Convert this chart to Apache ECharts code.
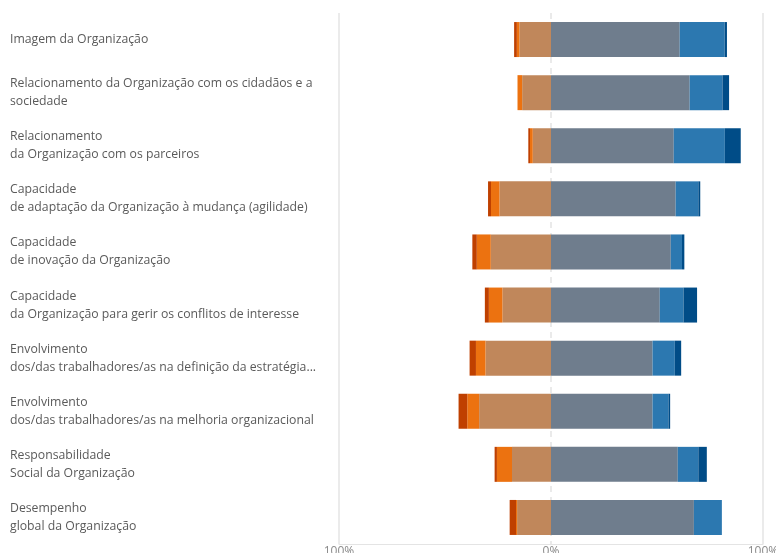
<!DOCTYPE html>
<html>
<head>
<meta charset="utf-8">
<script src="https://cdn.jsdelivr.net/npm/echarts@6/dist/echarts.min.js"></script>
<style>
  html, body { margin: 0; padding: 0; background: #ffffff; }
  #chart { width: 776px; height: 553px; }
</style>
</head>
<body>
<div id="chart"></div>
<script>
// Dimensions evaluated
const categories = [
  'Imagem da Organização',
  'Relacionamento da Organização com os cidadãos e a\nsociedade',
  'Relacionamento\nda Organização com os parceiros',
  'Capacidade\nde adaptação da Organização à mudança (agilidade)',
  'Capacidade\nde inovação da Organização',
  'Capacidade\nda Organização para gerir os conflitos de interesse',
  'Envolvimento\ndos/das trabalhadores/as na definição da estratégia...',
  'Envolvimento\ndos/das trabalhadores/as na melhoria organizacional',
  'Responsabilidade\nSocial da Organização',
  'Desempenho\nglobal da Organização'
];

// Share of answers per level (%), from most negative to most positive
const veryNegative = [1.3, 0.0, 0.8, 1.4, 2.1, 1.9, 3.0, 4.1, 1.1, 3.0];
const negative     = [1.2, 2.2, 1.3, 4.0, 6.6, 6.4, 4.5, 5.6, 7.1, 0.5];
const slightlyNeg  = [14.9, 13.6, 8.6, 24.3, 28.4, 22.9, 30.9, 33.9, 18.4, 16.0];
const slightlyPos  = [60.7, 65.4, 57.9, 58.8, 56.5, 51.3, 47.9, 47.9, 59.8, 67.4];
const positive     = [21.2, 15.5, 24.1, 10.7, 5.3, 11.2, 10.5, 7.5, 9.7, 13.2];
const veryPositive = [1.1, 3.1, 7.5, 0.9, 1.1, 6.4, 3.0, 0.8, 4.0, 0.0];

// Axis ticks (%)
const ticks = [-100, 0, 100];

const levels = [
  { name: 'Pouco satisfeito', values: slightlyNeg, side: -1, color: '#C0875B' },
  { name: 'Insatisfeito', values: negative, side: -1, color: '#EC7210' },
  { name: 'Muito insatisfeito', values: veryNegative, side: -1, color: '#BF4000' },
  { name: 'Satisfeito', values: slightlyPos, side: 1, color: '#6F7D8D' },
  { name: 'Bastante satisfeito', values: positive, side: 1, color: '#2C78B0' },
  { name: 'Muito satisfeito', values: veryPositive, side: 1, color: '#004C87' }
];

const barSeries = levels.map(l => ({
  name: l.name,
  type: 'bar',
  stack: 'total',
  barWidth: 35,
  z: 3,
  itemStyle: { color: l.color },
  emphasis: { disabled: true },
  data: l.values.map(v => l.side * v)
}));

// Reference lines behind the bars: solid at the extremes, dashed at zero
const refLines = {
  type: 'scatter',
  data: [],
  z: 1,
  silent: true,
  markLine: {
    z: 1,
    silent: true,
    symbol: 'none',
    label: { show: false },
    data: ticks.map(t => ({
      xAxis: t,
      lineStyle: t === 0
        ? { color: '#e4e4e4', width: 1.5, type: [6, 5] }
        : { color: '#e4e4e4', width: 1.5, type: 'solid' }
    }))
  }
};

const chart = echarts.init(document.getElementById('chart'), null, { renderer: 'canvas' });
chart.setOption({
  animation: false,
  grid: {
    left: 339, right: 13, top: 13, bottom: 9,
    containLabel: false,
    outerBoundsMode: 'none'
  },
  xAxis: {
    type: 'value',
    min: ticks[0],
    max: ticks[ticks.length - 1],
    interval: 100,
    splitLine: { show: false },
    axisTick: { show: false },
    axisLine: { show: true, lineStyle: { color: '#e4e4e4', width: 1 } },
    axisLabel: {
      margin: 2,
      color: '#8a8a8a',
      fontFamily: 'Open Sans',
      fontSize: 12,
      formatter: v => Math.abs(v) + '%'
    }
  },
  yAxis: {
    type: 'category',
    inverse: true,
    data: categories,
    axisLine: { show: false },
    axisTick: { show: false },
    axisLabel: {
      align: 'left',
      margin: 329,
      color: '#5a5a5a',
      fontFamily: 'Open Sans',
      fontSize: 12.25,
      lineHeight: 18,
      padding: [4, 0, 0, 0]
    }
  },
  series: [refLines, ...barSeries]
});
</script>
</body>
</html>
